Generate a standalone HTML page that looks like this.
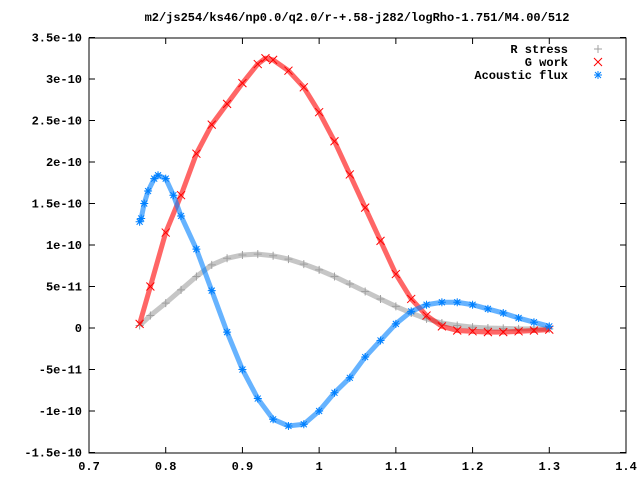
<!DOCTYPE html>
<html><head><meta charset="utf-8"><style>
body{margin:0;background:#fff}
svg{display:block}
text{font-family:"Liberation Mono",monospace;font-size:12px;font-weight:bold;fill:#000}
</style></head><body>
<svg id="chart" width="640" height="480" viewBox="0 0 640 480">
<text x="357" y="21" text-anchor="middle">m2/js254/ks46/np0.0/q2.0/r-+.58-j282/logRho-1.751/M4.00/512</text>
<g id="axes"></g>
<g id="series"></g>
<rect x="89" y="38" width="537" height="415" fill="none" stroke="#000" stroke-width="1"/>
<g id="legend"></g>
</svg>
<script>
const xTicks=[0.7,0.8,0.9,1,1.1,1.2,1.3,1.4];
const xTickLabels=["0.7","0.8","0.9","1","1.1","1.2","1.3","1.4"];
const yTicks=[3.5,3,2.5,2,1.5,1,0.5,0,-0.5,-1,-1.5];
const yTickLabels=["3.5e-10","3e-10","2.5e-10","2e-10","1.5e-10","1e-10","5e-11","0","-5e-11","-1e-10","-1.5e-10"];
const seriesNames=["R stress","G work","Acoustic flux"];
const rX=[0.766,0.78,0.80,0.82,0.84,0.86,0.88,0.90,0.92,0.94,0.96,0.98,1.00,1.02,1.04,1.06,1.08,1.10,1.12,1.14,1.16,1.18,1.20,1.22,1.24,1.26,1.28,1.30];
const rY=[0.03,0.15,0.3,0.46,0.62,0.76,0.84,0.88,0.89,0.87,0.83,0.77,0.7,0.62,0.53,0.44,0.35,0.26,0.18,0.11,0.06,0.03,0.01,0,-0.005,-0.01,-0.01,-0.01];
const gX=[0.766,0.78,0.80,0.82,0.84,0.86,0.88,0.90,0.92,0.93,0.94,0.96,0.98,1.00,1.02,1.04,1.06,1.08,1.10,1.12,1.14,1.16,1.18,1.20,1.22,1.24,1.26,1.28,1.30];
const gY=[0.05,0.5,1.15,1.6,2.1,2.45,2.7,2.95,3.18,3.25,3.23,3.1,2.9,2.6,2.25,1.85,1.45,1.05,0.65,0.35,0.15,0.02,-0.03,-0.04,-0.05,-0.05,-0.04,-0.03,-0.02];
const aX=[0.766,0.768,0.772,0.777,0.785,0.79,0.80,0.81,0.82,0.84,0.86,0.88,0.90,0.92,0.94,0.96,0.98,1.00,1.02,1.04,1.06,1.08,1.10,1.12,1.14,1.16,1.18,1.20,1.22,1.24,1.26,1.28,1.30];
const aY=[1.28,1.32,1.5,1.65,1.8,1.84,1.8,1.6,1.35,0.95,0.45,-0.05,-0.5,-0.85,-1.1,-1.18,-1.16,-1.0,-0.78,-0.6,-0.35,-0.15,0.05,0.2,0.28,0.31,0.31,0.28,0.23,0.18,0.12,0.07,0.02];

const NS="http://www.w3.org/2000/svg";
function sx(v){return 89+(v-0.7)*(537/0.7);}
function sy(v){return 328-v*83;}
const axes=document.getElementById('axes');
function mk(tag,attrs,parent){const e=document.createElementNS(NS,tag);for(const k in attrs)e.setAttribute(k,attrs[k]);parent.appendChild(e);return e;}
xTicks.forEach((v,i)=>{
  const x=sx(v);
  const t1=mk('line',{x1:x,y1:453,x2:x,y2:447,stroke:'#000'},axes);
  
  
  const t2=mk('line',{x1:x,y1:38,x2:x,y2:44,stroke:'#000'},axes);
  
  
  const l=mk('text',{x:x,y:470,'text-anchor':'middle'},axes);
  l.textContent=xTickLabels[i];
  
  
});
yTicks.forEach((v,i)=>{
  const y=sy(v);
  const t1=mk('line',{x1:89,y1:y,x2:95,y2:y,stroke:'#000'},axes);
  
  
  const t2=mk('line',{x1:626,y1:y,x2:620,y2:y,stroke:'#000'},axes);
  
  
  const l=mk('text',{x:82,y:y+4,'text-anchor':'end'},axes);
  l.textContent=yTickLabels[i];
  
  
});
function marker(g,type,x,y,color){
  const p=mk('path',{stroke:color,'stroke-width':1,fill:'none'},g);
  let d;
  if(type==='plus')d=`M${x-4},${y}H${x+4}M${x},${y-4}V${y+4}`;
  else if(type==='cross')d=`M${x-4},${y-4}L${x+4},${y+4}M${x-4},${y+4}L${x+4},${y-4}`;
  else d=`M${x-4},${y}H${x+4}M${x},${y-4}V${y+4}M${x-3},${y-3}L${x+3},${y+3}M${x-3},${y+3}L${x+3},${y-3}`;
  p.setAttribute('d',d);
  return p;
}
const sg=document.getElementById('series');
function drawSeries(xs,ys,type,color,name){
  const g=mk('g',{},sg);
  
  
  const pts=xs.map((v,i)=>sx(v)+','+sy(ys[i])).join(' ');
  const pl=mk('polyline',{points:pts,fill:'none',stroke:color,'stroke-width':5,'stroke-opacity':0.6,'stroke-linejoin':'round'},g);
  
  
  xs.forEach((v,i)=>{
    const m=marker(g,type,sx(v),sy(ys[i]),color);
    
    
  });
}
drawSeries(rX,rY,'plus','#a0a0a0','r-stress-series');
drawSeries(gX,gY,'cross','#ff0000','g-work-series');
drawSeries(aX,aY,'star','#0080ff','acoustic-flux-series');
const lg=document.getElementById('legend');
const lcol=['#a0a0a0','#ff0000','#0080ff'],ltype=['plus','cross','star'];
seriesNames.forEach((n,i)=>{
  const y=49+i*13;
  const e=mk('g',{},lg);
  
  
  const t=mk('text',{x:568,y:y+4,'text-anchor':'end'},e);
  t.textContent=n;
  
  
  const m=marker(e,ltype[i],598,y,lcol[i]);
  
  
});
</script>
</body></html>
